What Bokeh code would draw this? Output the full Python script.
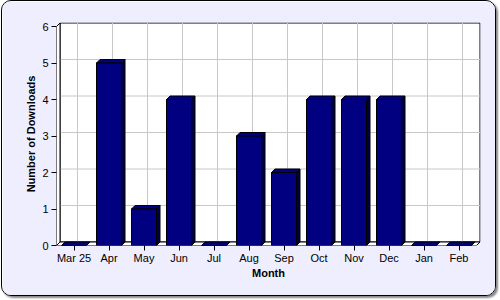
from bokeh.plotting import figure
from bokeh.models import Range1d, FixedTicker
from bokeh.embed import file_html
from bokeh.resources import INLINE

# ---- data ----
months = ["Mar 25", "Apr", "May", "Jun", "Jul", "Aug", "Sep", "Oct", "Nov", "Dec", "Jan", "Feb"]
downloads = [0, 5, 1, 4, 0, 3, 2, 4, 4, 4, 0, 0]
y_ticks = [0, 1, 2, 3, 4, 5, 6]

# ---- style / layout constants ----
BG = "#EEEEFF"
BAR = "#000080"
SIDE = "#000040"
GRID = "#C8C8C8"
PX_X = 35.0        # pixels per category slot
PX_Y = 36.5        # pixels per y unit
DEPTH = 3.5        # 3D depth in pixels
DX = DEPTH / PX_X
DY = DEPTH / PX_Y
BAR_W = 25.0 / PX_X
FRAME_W = 424
FRAME_H = 223
W, H = 495, 296
ML, MT = 54, 21
FONT = "Liberation Sans"

n = len(months)
xs = list(range(n))
ymax = max(y_ticks)

p = figure(width=W, height=H, output_backend="svg", toolbar_location=None,
           x_range=Range1d(-0.5, -0.5 + FRAME_W / PX_X),
           y_range=Range1d(0, FRAME_H / PX_Y),
           min_border_left=ML, min_border_right=W - ML - FRAME_W,
           min_border_top=MT, min_border_bottom=H - MT - FRAME_H,
           background_fill_color=BG, border_fill_color=BG,
           outline_line_color=None,
           styles={"border": "1px solid black", "border-radius": "10px",
                   "box-shadow": "2px 2px 2px #888888", "overflow": "hidden",
                   "margin-left": "1px"})
p.xgrid.visible = False
p.ygrid.visible = False

x0 = -0.5
x1 = n - 0.5

# back wall
p.quad(left=[x0 + DX], right=[x1 + DX], bottom=[DY], top=[ymax + DY],
       fill_color="white", line_color="black", line_width=1)
# horizontal grid lines on back wall
gy = [t + DY for t in y_ticks[1:-1]]
p.segment(x0=[x0 + DX] * len(gy), x1=[x1 + DX] * len(gy), y0=gy, y1=gy,
          line_color=GRID, line_width=1)
# vertical grid lines on back wall
gx = [x + DX for x in xs]
p.segment(x0=gx, x1=gx, y0=[DY] * n, y1=[ymax + DY] * n, line_color=GRID, line_width=1)
# left wall
p.patch([x0, x0, x0 + DX, x0 + DX], [0, ymax, ymax + DY, DY],
        fill_color="white", line_color="black", line_width=1)
# floor
p.patch([x0, x1, x1 + DX, x0 + DX], [0, 0, DY, DY],
        fill_color="white", line_color="black", line_width=1)

# bars
half = BAR_W / 2
side_xs, side_ys, top_xs, top_ys = [], [], [], []
for x, v in zip(xs, downloads):
    l, r = x - half, x + half
    side_xs.append([r, r, r + DX, r + DX])
    side_ys.append([0, v, v + DY, DY])
    top_xs.append([l, r, r + DX, l + DX])
    top_ys.append([v, v, v + DY, v + DY])
p.patches(side_xs, side_ys, fill_color=SIDE, line_color="black", line_width=1)
p.patches(top_xs, top_ys, fill_color=BAR, line_color="black", line_width=1)
p.quad(left=[x - half for x in xs], right=[x + half for x in xs],
       bottom=[0] * n, top=downloads, fill_color=BAR, line_color="black", line_width=1)

# axes
for ax in (p.xaxis[0], p.yaxis[0]):
    ax.axis_line_color = None
    ax.major_tick_out = 5
    ax.major_tick_in = 0
    ax.minor_tick_line_color = None
    ax.major_tick_line_color = "black"
    ax.major_label_text_font = FONT
    ax.major_label_text_font_size = "11px"
    ax.major_label_text_color = "black"
    ax.axis_label_text_font = FONT
    ax.axis_label_text_font_size = "11px"
    ax.axis_label_text_font_style = "bold"
    ax.axis_label_text_color = "black"

p.xaxis.ticker = FixedTicker(ticks=xs)
p.xaxis.major_label_overrides = {x: m for x, m in zip(xs, months)}
p.xaxis.axis_label = "Month"
p.xaxis.major_label_standoff = 1
p.xaxis.axis_label_standoff = 0

p.yaxis.ticker = FixedTicker(ticks=y_ticks)
p.yaxis.axis_label = "Number of Downloads"
p.yaxis.major_label_standoff = 3
p.yaxis.axis_label_standoff = 2

open("out.html", "w").write(file_html(p, INLINE))
